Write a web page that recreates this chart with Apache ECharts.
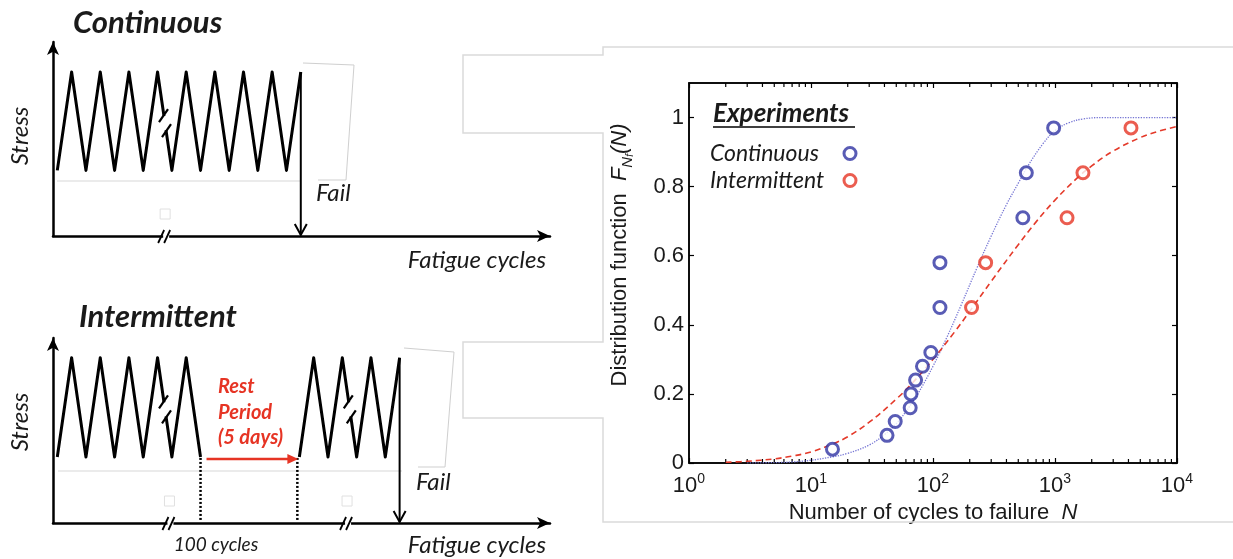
<!DOCTYPE html>
<html><head><meta charset="utf-8">
<script src="https://cdn.jsdelivr.net/npm/echarts@6/dist/echarts.min.js"></script>
<style>html,body{margin:0;padding:0;background:#fff}#c{width:1233px;height:559px}</style>
</head><body><div id="c"></div>
<script>
// ================= DATA =================
// Right plot: experiments (N = cycles to failure, F = distribution function)
const continuousN = [15, 42, 49, 65, 66, 72, 82, 96, 114, 114, 545, 582, 975];
const continuousF = [0.04, 0.08, 0.12, 0.16, 0.20, 0.24, 0.28, 0.32, 0.45, 0.58, 0.71, 0.84, 0.97];
const intermittentN = [207, 270, 1255, 1695, 4195];
const intermittentF = [0.45, 0.58, 0.71, 0.84, 0.97];
// Fitted distribution curves
const contFitN = [3, 5, 7, 10, 15, 20, 30, 40, 50, 60, 75, 100, 130, 170, 230, 300, 400, 500, 600, 800, 1000, 1300, 1700, 2500, 4000, 10000];
const contFitF = [0.0005, 0.001, 0.003, 0.008, 0.018, 0.028, 0.052, 0.082, 0.114, 0.149, 0.2, 0.28, 0.364, 0.457, 0.566, 0.657, 0.748, 0.81, 0.86, 0.925, 0.962, 0.985, 0.996, 1.0, 1.0, 1.0];
const interFitN = [2, 3, 5, 7, 10, 15, 20, 30, 50, 70, 100, 150, 200, 300, 500, 700, 1000, 1500, 2000, 3000, 5000, 7000, 10000];
const interFitF = [0.002, 0.005, 0.012, 0.02, 0.032, 0.055, 0.076, 0.118, 0.185, 0.237, 0.3, 0.379, 0.439, 0.526, 0.632, 0.698, 0.761, 0.823, 0.86, 0.903, 0.942, 0.96, 0.974];
// Axis ticks
const xMinN = 1, xMaxN = 10000;
const yMinF = 0, yMaxF = 1.1, yStepF = 0.2;
const minorTickN = [2,3,4,5,6,7,8,9, 20,30,40,50,60,70,80,90, 200,300,400,500,600,700,800,900, 2000,3000,4000,5000,6000,7000,8000,9000];
// Schematic: time in cycles, stress normalised (valley 0.4, peak 1)
const contT = [0,0.5,1,1.5,2,2.5,3,3.5,4,4.5,5,5.5,6,6.5,7,7.5,8,8.5];
const contS = [0.4,1,0.4,1,0.4,1,0.4,1,0.4,1,0.4,1,0.4,1,0.4,1,0.4,1];
const interT1 = [0,0.5,1,1.5,2,2.5,3,3.5,4,4.5,5];
const interS1 = [0.4,1,0.4,1,0.4,1,0.4,1,0.4,1,0.4];
const interT2 = [8.45,8.95,9.45,9.95,10.45,10.95,11.45,11.95];
const interS2 = [0.4,1,0.4,1,0.4,1,0.4,1];

// ================= STYLE =================
const BLUE = '#2f33a2', RED = '#e63424';
const BLUE_LINE = '#7676d4', RED_LINE = '#e43a2a';
const TXT = '#1a1a1a';
const sansLbl = 'Liberation Sans';
const hum = 'Lato';

const zip = (a, b) => a.map((v, i) => [v, b[i]]);

const chart = echarts.init(document.getElementById('c'), null, {renderer: 'canvas'});

const schemX = (grid) => ({
  gridIndex: grid, type: 'value', min: -0.15, max: 17.2,
  axisLine: {show: true, onZero: false, symbol: ['none', 'arrow'], symbolSize: [9, 13], lineStyle: {color: '#000', width: 2.5}},
  axisTick: {show: false}, axisLabel: {show: false}, splitLine: {show: false}
});
const schemY = (grid, max) => ({
  gridIndex: grid, type: 'value', min: 0, max: max,
  axisLine: {show: true, onZero: false, symbol: ['none', 'arrow'], symbolSize: [9, 13], lineStyle: {color: '#000', width: 2.5}},
  axisTick: {show: false}, axisLabel: {show: false}, splitLine: {show: false}
});
const legTxt = {fontFamily: hum, fontStyle: 'italic', fontSize: 23, color: TXT, width: 129, lineHeight: 26, align: 'left'};
const zz = {color: '#000', width: 3, join: 'round'};

const option = {
  animation: false,
  backgroundColor: '#fff',
  grid: [
    {left: 53, top: 42, width: 497, height: 194},
    {left: 53, top: 338, width: 497, height: 185},
    {left: 689, top: 83, width: 488, height: 380, show: true, borderColor: '#000', borderWidth: 1.5, backgroundColor: 'transparent'}
  ],
  xAxis: [
    schemX(0), schemX(1),
    {
      gridIndex: 2, type: 'log', logBase: 10, min: xMinN, max: xMaxN,
      name: '{a|Number of cycles to failure  }{i|N}', nameLocation: 'middle', nameGap: 31,
      nameTextStyle: {rich: {a: {fontFamily: sansLbl, fontSize: 22, color: TXT, lineHeight: 26}, i: {fontFamily: sansLbl, fontSize: 22, fontStyle: 'italic', color: TXT, lineHeight: 26}}},
      axisLine: {show: true, onZero: false, lineStyle: {color: '#000', width: 1.5}},
      axisTick: {show: true, inside: true, length: 5, lineStyle: {color: '#000', width: 1.2}},
      splitLine: {show: false}, minorTick: {show: false},
      axisLabel: {
        margin: 9,
        formatter: v => '{b|10}{s|' + Math.round(Math.log10(v)) + '}',
        rich: {
          b: {fontFamily: sansLbl, fontSize: 22, lineHeight: 28, color: TXT},
          s: {fontFamily: sansLbl, fontSize: 14, lineHeight: 14, verticalAlign: 'top', color: TXT}
        }
      }
    },
    {
      gridIndex: 2, type: 'log', logBase: 10, min: xMinN, max: xMaxN, position: 'top',
      axisLine: {show: true, onZero: false, lineStyle: {color: '#000', width: 1.5}},
      axisTick: {show: true, inside: true, length: 5, lineStyle: {color: '#000', width: 1.2}},
      axisLabel: {show: false}, splitLine: {show: false}
    }
  ],
  yAxis: [
    schemY(0, 1.183), schemY(1, 1.12),
    {
      gridIndex: 2, type: 'value', min: yMinF, max: yMaxF, interval: yStepF,
      name: '{a|Distribution function  }{f|F}{n|N}{ff|f}{p|(N)}',
      nameLocation: 'middle', nameGap: 54, nameRotate: 90,
      nameTextStyle: {padding: [0, 0, 0, 36], rich: {
        a: {fontFamily: sansLbl, fontSize: 22, color: TXT, lineHeight: 30},
        f: {fontFamily: sansLbl, fontSize: 22, fontStyle: 'italic', color: TXT, lineHeight: 30},
        n: {fontFamily: sansLbl, fontSize: 15, fontStyle: 'italic', color: TXT, lineHeight: 15, verticalAlign: 'bottom'},
        ff: {fontFamily: sansLbl, fontSize: 10, fontStyle: 'italic', color: TXT, lineHeight: 7, verticalAlign: 'bottom'},
        p: {fontFamily: sansLbl, fontSize: 22, fontStyle: 'italic', color: TXT, lineHeight: 30}
      }},
      axisLine: {show: true, onZero: false, lineStyle: {color: '#000', width: 1.5}},
      axisTick: {show: true, inside: true, length: 5, lineStyle: {color: '#000', width: 1.2}},
      splitLine: {show: false},
      axisLabel: {margin: 5, showMaxLabel: false, fontFamily: sansLbl, fontSize: 22, color: TXT}
    },
    {
      gridIndex: 2, type: 'value', min: yMinF, max: yMaxF, interval: yStepF, position: 'right',
      axisLine: {show: true, onZero: false, lineStyle: {color: '#000', width: 1.5}},
      axisTick: {show: true, inside: true, length: 5, lineStyle: {color: '#000', width: 1.2}},
      axisLabel: {show: false}, splitLine: {show: false}
    }
  ],
  legend: {
    data: [
      {name: 'Continuous', itemStyle: {color: '#fff', borderColor: BLUE, borderWidth: 3}},
      {name: 'Intermittent', itemStyle: {color: '#fff', borderColor: RED, borderWidth: 3}}
    ],
    orient: 'vertical', left: 710, top: 142, align: 'right', icon: 'circle',
    itemWidth: 12, itemHeight: 12, itemGap: 4, padding: 0,
    formatter: name => '{w|' + name + '}',
    textStyle: {rich: {w: legTxt}}
  },
  series: [
    {type: 'line', xAxisIndex: 0, yAxisIndex: 0, data: zip(contT, contS), showSymbol: false, lineStyle: zz, silent: true},
    {type: 'line', xAxisIndex: 1, yAxisIndex: 1, data: zip(interT1, interS1), showSymbol: false, lineStyle: zz, silent: true},
    {type: 'line', xAxisIndex: 1, yAxisIndex: 1, data: zip(interT2, interS2), showSymbol: false, lineStyle: zz, silent: true},
    {
      type: 'custom', xAxisIndex: 2, yAxisIndex: 2, data: minorTickN.map(v => [v, 0]), silent: true,
      renderItem: (params, api) => {
        const v = api.value(0);
        const b = api.coord([v, yMinF]);
        const t = api.coord([v, yMaxF]);
        return {type: 'group', children: [
          {type: 'line', shape: {x1: b[0], y1: b[1], x2: b[0], y2: b[1] - 4}, style: {stroke: '#000', lineWidth: 1.2}},
          {type: 'line', shape: {x1: t[0], y1: t[1], x2: t[0], y2: t[1] + 4}, style: {stroke: '#000', lineWidth: 1.2}}
        ]};
      }
    },
    {name: 'contFit', type: 'line', xAxisIndex: 2, yAxisIndex: 2, data: zip(contFitN, contFitF), showSymbol: false, smooth: 0.4, z: 2,
      lineStyle: {color: BLUE_LINE, width: 1.3, type: 'dotted'}},
    {name: 'interFit', type: 'line', xAxisIndex: 2, yAxisIndex: 2, data: zip(interFitN, interFitF), showSymbol: false, smooth: 0.4, z: 2,
      lineStyle: {color: RED_LINE, width: 1.6, type: [6, 4]}},
    {name: 'Continuous', type: 'scatter', xAxisIndex: 2, yAxisIndex: 2, data: zip(continuousN, continuousF), symbol: 'circle', symbolSize: 12, z: 4,
      itemStyle: {color: '#fff', borderColor: BLUE, borderWidth: 3}},
    {name: 'Intermittent', type: 'scatter', xAxisIndex: 2, yAxisIndex: 2, data: zip(intermittentN, intermittentF), symbol: 'circle', symbolSize: 12, z: 4,
      itemStyle: {color: '#fff', borderColor: RED, borderWidth: 3}}
  ]
};
chart.setOption(option);

// ================= ANNOTATIONS =================
const P = (g, t, s) => chart.convertToPixel({gridIndex: g}, [t, s]);
const g = [];
const txt = (x, y, text, o) => g.push({type: 'text', x: x, y: y, z: 50, style: Object.assign({text: text, fill: TXT, font: 'italic 24px ' + hum, textVerticalAlign: 'middle', textAlign: 'left'}, o || {})});
const ln = (x1, y1, x2, y2, stroke, w, extra, z) => g.push({type: 'line', z: z || 40, shape: {x1, y1, x2, y2}, style: Object.assign({stroke: stroke, lineWidth: w}, extra || {})});

// faint frame of the right panel (with tabs)
g.push({type: 'polyline', z: 1, shape: {points: [[1233,47],[603,47],[603,55],[463,55],[463,133],[603,133],[603,342],[463,342],[463,418],[603,418],[603,522],[1233,522]]},
  style: {stroke: '#dadada', lineWidth: 1.5, fill: null}});
// faint artefacts in schematics
g.push({type: 'polyline', z: 1, shape: {points: [[303,63],[354,65],[346,180],[318,180]]}, style: {stroke: '#cfcfcf', lineWidth: 1, fill: null}});
g.push({type: 'polyline', z: 1, shape: {points: [[404,348],[454,352],[445,467],[418,467]]}, style: {stroke: '#cfcfcf', lineWidth: 1, fill: null}});
ln(57, 181, 300, 181, '#e4e4e4', 1.5);
ln(58, 471, 402, 471, '#e4e4e4', 1.5);

// Fail arrows
function failArrow(gi, t) {
  const a = P(gi, t, 1), b = P(gi, t, 0);
  ln(a[0], a[1], b[0], b[1] - 1, '#000', 2);
  g.push({type: 'polyline', z: 41, shape: {points: [[b[0] - 6, b[1] - 12], [b[0], b[1] - 1], [b[0] + 6, b[1] - 12]]}, style: {stroke: '#000', lineWidth: 2, fill: null}});
}
failArrow(0, contT[contT.length - 1]);
failArrow(1, interT2[interT2.length - 1]);

// breaks on zigzag
function zigBreak(gi, tPeak, tVal) {
  const a = P(gi, tPeak, 1), b = P(gi, tVal, 0.4);
  const f = 0.52;
  const cx = a[0] + (b[0] - a[0]) * f, cy = a[1] + (b[1] - a[1]) * f;
  g.push({type: 'line', z: 42, shape: {x1: cx - 1, y1: cy - 7, x2: cx + 1, y2: cy + 7}, style: {stroke: '#fff', lineWidth: 5}});
  ln(cx - 6, cy - 1, cx + 3, cy - 14, '#000', 2.2, null, 43);
  ln(cx - 3, cy + 14, cx + 6, cy + 1, '#000', 2.2, null, 43);
}
zigBreak(0, 3.5, 4);
zigBreak(1, 3.5, 4);
zigBreak(1, 9.95, 10.45);

// breaks on x axis
function axBreak(gi, t) {
  const p = P(gi, t, 0);
  g.push({type: 'rect', z: 42, shape: {x: p[0] - 3, y: p[1] - 3, width: 6, height: 6}, style: {fill: '#fff'}});
  ln(p[0] - 8, p[1] + 7, p[0] - 2, p[1] - 6, '#000', 1.8, null, 43);
  ln(p[0] - 2, p[1] + 7, p[0] + 4, p[1] - 6, '#000', 1.8, null, 43);
  g.push({type: 'rect', z: 41, shape: {x: p[0] - 6, y: p[1] - 27, width: 10, height: 10}, style: {fill: null, stroke: '#e0e0e0', lineWidth: 1}});
}
axBreak(0, 3.8);
axBreak(1, 3.95);
axBreak(1, 10.15);

// rest period: dotted lines + red arrow
(function () {
  const v1 = P(1, interT1[interT1.length - 1], 0.4), v2 = P(1, interT2[0], 0.4);
  const a1 = P(1, interT1[interT1.length - 1], 0), a2 = P(1, interT2[0], 0);
  ln(v1[0], v1[1] + 1, a1[0], a1[1] - 2, '#000', 2.5, {lineDash: [2, 2]});
  ln(v2[0] - 2, v2[1] + 1, a2[0] - 2, a2[1] - 2, '#000', 2.5, {lineDash: [2, 2]});
  const y = v1[1] + 2;
  ln(v1[0] + 6, y, v2[0] - 9, y, RED, 2.5);
  g.push({type: 'polygon', z: 44, shape: {points: [[v2[0] - 12, y - 5], [v2[0] - 1, y], [v2[0] - 12, y + 5]]}, style: {fill: RED}});
})();

// texts - schematics
const boldIt = 'italic bold 31px ' + hum;
txt(73, 23, 'Continuous', {font: boldIt});
txt(79, 317, 'Intermittent', {font: boldIt});
g.push({type: 'text', x: 20, y: 136, rotation: Math.PI / 2, z: 50, style: {text: 'Stress', font: 'italic 24px ' + hum, fill: TXT, textAlign: 'center', textVerticalAlign: 'middle'}});
g.push({type: 'text', x: 20, y: 422, rotation: Math.PI / 2, z: 50, style: {text: 'Stress', font: 'italic 24px ' + hum, fill: TXT, textAlign: 'center', textVerticalAlign: 'middle'}});
txt(316, 193, 'Fail');
txt(416, 482, 'Fail');
txt(546, 260, 'Fatigue cycles', {textAlign: 'right'});
txt(546, 545, 'Fatigue cycles', {textAlign: 'right'});
txt(216, 545, '100 cycles', {textAlign: 'center', font: 'italic 19px ' + hum});
const redFont = 'italic bold 20px ' + hum;
txt(218, 387, 'Rest', {font: redFont, fill: RED});
txt(218, 413, 'Period', {font: redFont, fill: RED});
txt(218, 438, '(5 days)', {font: redFont, fill: RED});

// Experiments header
txt(713, 114, 'Experiments', {font: 'italic bold 26px ' + hum});
ln(713, 127, 855, 127, '#000', 1.6);

chart.setOption({graphic: {elements: g}});
</script></body></html>
